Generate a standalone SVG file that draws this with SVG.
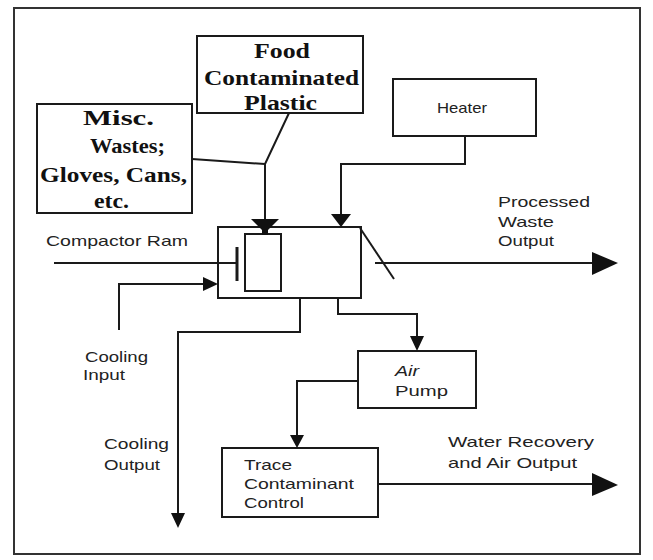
<svg xmlns="http://www.w3.org/2000/svg" width="653" height="560" viewBox="0 0 653 560">
<style>
.box{fill:#fff;stroke:#1a1a1a;stroke-width:2}
.ln{fill:none;stroke:#1a1a1a;stroke-width:2}
.ah{fill:#111;stroke:none}
.s{font-family:"Liberation Sans",Arial,sans-serif;font-size:15px;fill:#222}
.b{font-family:"Liberation Serif","Times New Roman",serif;font-size:21px;font-weight:bold;fill:#111}
</style>
<rect x="0" y="0" width="653" height="560" fill="#fff"/>
<rect x="14" y="8" width="626" height="546" fill="none" stroke="#333" stroke-width="2"/>
<g id="food">
<rect class="box" x="197" y="36" width="166" height="77"/>
<text class="b" x="254" y="58" textLength="56" lengthAdjust="spacingAndGlyphs">Food</text>
<text class="b" x="204" y="85" textLength="155" lengthAdjust="spacingAndGlyphs">Contaminated</text>
<text class="b" x="244" y="110" textLength="73" lengthAdjust="spacingAndGlyphs">Plastic</text>
</g>
<g id="misc">
<rect class="box" x="37" y="104" width="155" height="109"/>
<text class="b" x="83" y="125" textLength="71" lengthAdjust="spacingAndGlyphs">Misc.</text>
<text class="b" x="90" y="153" textLength="75" lengthAdjust="spacingAndGlyphs">Wastes;</text>
<text class="b" x="40" y="182" textLength="147" lengthAdjust="spacingAndGlyphs">Gloves, Cans,</text>
<text class="b" x="94" y="208" textLength="35" lengthAdjust="spacingAndGlyphs">etc.</text>
</g>
<g id="heater">
<rect class="box" x="393" y="79" width="143" height="57"/>
<text class="s" x="437" y="113" textLength="50" lengthAdjust="spacingAndGlyphs">Heater</text>
</g>
<g id="compactor">
<rect class="box" x="218" y="227" width="143" height="71"/>
<rect class="box" x="245" y="234" width="36" height="57"/>
</g>
<g id="airpump">
<rect class="box" x="358" y="351" width="118" height="57"/>
<text class="s" x="395" y="376" font-style="italic" textLength="24" lengthAdjust="spacingAndGlyphs">Air</text>
<text class="s" x="395" y="396" textLength="53" lengthAdjust="spacingAndGlyphs">Pump</text>
</g>
<g id="tcc">
<rect class="box" x="222" y="448" width="156" height="69"/>
<text class="s" x="244" y="470" textLength="48" lengthAdjust="spacingAndGlyphs">Trace</text>
<text class="s" x="244" y="489" textLength="110" lengthAdjust="spacingAndGlyphs">Contaminant</text>
<text class="s" x="244" y="508" textLength="60" lengthAdjust="spacingAndGlyphs">Control</text>
</g>
<g id="labels">
<text class="s" x="46" y="246" textLength="142" lengthAdjust="spacingAndGlyphs">Compactor Ram</text>
<text class="s" x="498" y="207" textLength="92" lengthAdjust="spacingAndGlyphs">Processed</text>
<text class="s" x="498" y="227" textLength="56" lengthAdjust="spacingAndGlyphs">Waste</text>
<text class="s" x="498" y="246" textLength="56" lengthAdjust="spacingAndGlyphs">Output</text>
<text class="s" x="85" y="362" textLength="63" lengthAdjust="spacingAndGlyphs">Cooling</text>
<text class="s" x="83" y="380" textLength="42" lengthAdjust="spacingAndGlyphs">Input</text>
<text class="s" x="104" y="449" textLength="65" lengthAdjust="spacingAndGlyphs">Cooling</text>
<text class="s" x="104" y="470" textLength="56" lengthAdjust="spacingAndGlyphs">Output</text>
<text class="s" x="448" y="447" textLength="146" lengthAdjust="spacingAndGlyphs">Water Recovery</text>
<text class="s" x="448" y="468" textLength="129" lengthAdjust="spacingAndGlyphs">and Air Output</text>
</g>
<g id="connectors">
<polyline class="ln" points="289,113 265,164 265,222"/>
<polyline class="ln" points="192,159 265,164"/>
<polygon class="ah" points="251,219 279,219 265,233"/>
<rect class="ah" x="262" y="226" width="6" height="9"/>
<polyline class="ln" points="465,136 465,164 341,164 341,216"/>
<polygon class="ah" points="331,214 351,214 341,227"/>
<line class="ln" x1="54" y1="263" x2="237" y2="263"/>
<line x1="237" y1="247" x2="237" y2="281" stroke="#1a1a1a" stroke-width="3"/>
<polyline class="ln" points="119,330 119,284 206,284"/>
<polygon class="ah" points="203,277 218,284 203,291"/>
<line class="ln" x1="360" y1="228" x2="394" y2="279"/>
<line class="ln" x1="375" y1="263" x2="594" y2="263"/>
<polygon class="ah" points="592,252 618,263 592,275"/>
<polyline class="ln" points="338,298 338,314 417,314 417,338"/>
<polygon class="ah" points="410,336 424,336 417,351"/>
<polyline class="ln" points="300,298 300,332 178,332 178,516"/>
<polygon class="ah" points="171,513 185,513 178,528"/>
<polyline class="ln" points="358,381 297,381 297,437"/>
<polygon class="ah" points="290,435 304,435 297,448"/>
<line class="ln" x1="378" y1="484" x2="594" y2="484"/>
<polygon class="ah" points="592,473 618,485 592,496"/>
</g>
</svg>
